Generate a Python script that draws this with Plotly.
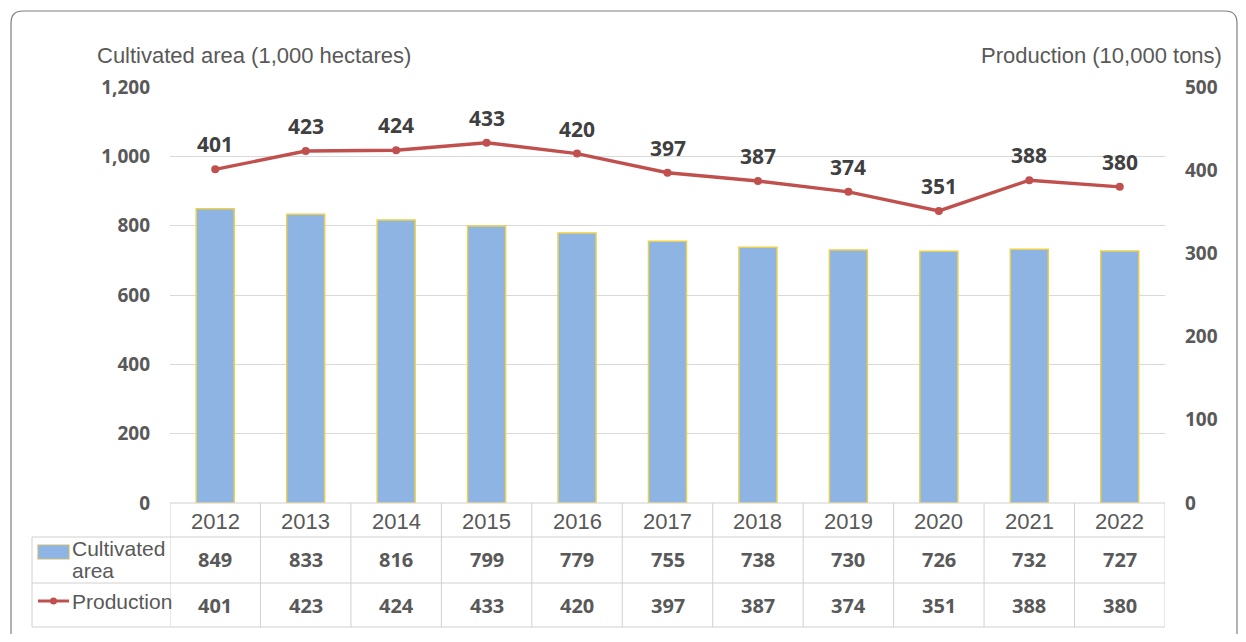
import plotly.graph_objects as go

years = ["2012", "2013", "2014", "2015", "2016", "2017", "2018", "2019", "2020", "2021", "2022"]
cultivated_area = [849, 833, 816, 799, 779, 755, 738, 730, 726, 732, 727]
production = [401, 423, 424, 433, 420, 397, 387, 374, 351, 388, 380]
left_ticks = [0, 200, 400, 600, 800, 1000, 1200]
right_ticks = [0, 100, 200, 300, 400, 500]

OFF = 8  # page body margin
W, H = 1246 - 2 * OFF, 642 - 2 * OFF
L, R, T, B = 170, 1165, 87, 503  # reference pixel coords of plot area
PW, PH = R - L, B - T

def px(x):
    return (x - L) / PW

def py(y):
    return (B - y) / PH

BLUE = "#8DB4E2"
RED = "#C0504D"
GRID = "#D9D9D9"
TXT = "#595959"

fig = go.Figure()
fig.add_trace(go.Bar(
    x=years, y=cultivated_area, name="Cultivated area",
    marker=dict(color=BLUE, line=dict(color="#EBCF4E", width=1.5)),
    width=0.42, yaxis="y", showlegend=False,
))
fig.add_trace(go.Scatter(
    x=years, y=production, name="Production", yaxis="y2",
    mode="lines+markers",
    line=dict(color=RED, width=3.4),
    marker=dict(color=RED, size=8),
    showlegend=False, cliponaxis=False,
))

shapes = []
annotations = []

# data labels above production points
for i, v in enumerate(production):
    annotations.append(dict(x=i, xref="x", y=v, yref="y2", yshift=25, yanchor="middle",
                            text=str(v), showarrow=False,
                            font=dict(family="Open Sans", size=21, color="#404040", weight="bold")))

# outer rounded border
x0, x1, y0, y1, r = px(11), px(1237), py(11), py(660), 12
rx, ry = r / PW, r / PH
path = (f"M {x0+rx},{y0} L {x1-rx},{y0} Q {x1},{y0} {x1},{y0-ry} "
        f"L {x1},{y1} L {x0},{y1} L {x0},{y0-ry} Q {x0},{y0} {x0+rx},{y0} Z")
shapes.append(dict(type="path", path=path, xref="paper", yref="paper",
                   line=dict(color="#7F7F7F", width=1.2), layer="below"))

# table lines
tl = dict(color="#D0D0D0", width=1)
shapes.append(dict(type="line", xref="paper", yref="paper", x0=0, x1=1, y0=py(503), y1=py(503), line=tl))
for yy in [537, 583, 627]:
    shapes.append(dict(type="line", xref="paper", yref="paper", x0=px(32), x1=1, y0=py(yy), y1=py(yy), line=tl))
for i in range(len(years) + 1):
    shapes.append(dict(type="line", xref="x", yref="paper", x0=i - 0.5, x1=i - 0.5,
                       y0=py(503), y1=py(627), line=tl))
shapes.append(dict(type="line", xref="paper", yref="paper", x0=px(32), x1=px(32),
                   y0=py(537), y1=py(627), line=tl))

# legend keys in table
shapes.append(dict(type="rect", xref="paper", yref="paper", x0=px(38), x1=px(69),
                   y0=py(545), y1=py(559), fillcolor=BLUE, line=dict(color="#C8C07A", width=1.2)))
shapes.append(dict(type="line", xref="paper", yref="paper", x0=px(38), x1=px(69),
                   y0=py(601), y1=py(601), line=dict(color=RED, width=3)))
shapes.append(dict(type="circle", xref="paper", yref="paper", x0=px(50), x1=px(57),
                   y0=py(597.5), y1=py(604.5), fillcolor=RED, line=dict(color=RED, width=0)))

cell_font = dict(family="Open Sans", size=20, color=TXT, weight="bold")
for i, yr in enumerate(years):
    annotations.append(dict(x=i, xref="x", y=py(521), yref="paper", yanchor="middle", text=yr,
                            showarrow=False, font=dict(family="Liberation Sans", size=22, color=TXT)))
    annotations.append(dict(x=i, xref="x", y=py(559), yref="paper", yanchor="middle",
                            text=str(cultivated_area[i]), showarrow=False, font=cell_font))
    annotations.append(dict(x=i, xref="x", y=py(605), yref="paper", yanchor="middle",
                            text=str(production[i]), showarrow=False, font=cell_font))

leg_font = dict(family="Liberation Sans", size=21, color=TXT)
annotations.append(dict(x=px(70), xref="paper", y=py(548), yref="paper", xanchor="left",
                        yanchor="middle", text="Cultivated", showarrow=False, font=leg_font))
annotations.append(dict(x=px(70), xref="paper", y=py(570), yref="paper", xanchor="left",
                        yanchor="middle", text="area", showarrow=False, font=leg_font))
annotations.append(dict(x=px(70), xref="paper", y=py(601), yref="paper", xanchor="left",
                        yanchor="middle", text="Production", showarrow=False, font=leg_font))

# axis titles
title_font = dict(family="Liberation Sans", size=22, color=TXT)
annotations.append(dict(x=px(95), xref="paper", y=py(56), yref="paper", xanchor="left",
                        yanchor="middle", text="Cultivated area (1,000 hectares)",
                        showarrow=False, font=title_font))
annotations.append(dict(x=px(1224), xref="paper", y=py(56), yref="paper", xanchor="right",
                        yanchor="middle", text="Production (10,000 tons)",
                        showarrow=False, font=title_font))

tick_font = dict(family="Open Sans", size=19, color=TXT, weight="bold")
fig.update_layout(
    width=W, height=H,
    margin=dict(l=L - OFF, r=W - (R - OFF), t=T - OFF, b=H - (B - OFF), pad=0),
    paper_bgcolor="white", plot_bgcolor="white",
    xaxis=dict(type="category", range=[-0.5, len(years) - 0.5], showticklabels=False,
               showgrid=False, zeroline=False, showline=False, ticks=""),
    yaxis=dict(range=[0, 1200], tickvals=left_ticks, ticktext=[f"{v:,}" for v in left_ticks],
               showgrid=True, gridcolor=GRID, gridwidth=1, zeroline=False, showline=False,
               tickfont=tick_font, ticklabelstandoff=19),
    yaxis2=dict(range=[0, 500], tickvals=right_ticks, overlaying="y", side="right",
                showgrid=False, zeroline=False, showline=False, tickfont=tick_font,
                ticklabelstandoff=19),
    shapes=shapes, annotations=annotations,
)

fig.write_html("out.html")
